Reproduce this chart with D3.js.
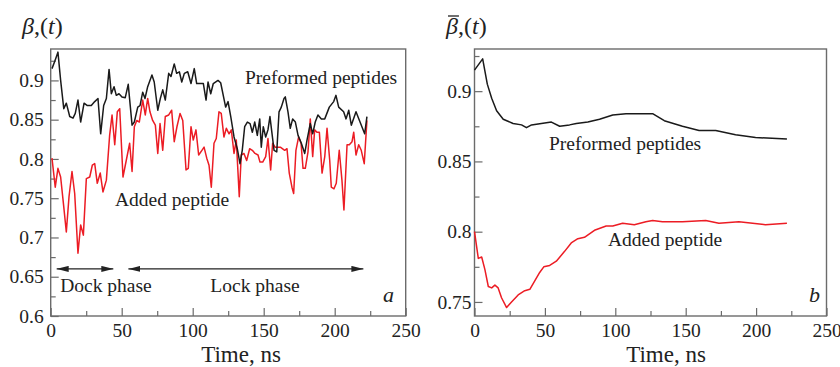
<!DOCTYPE html>
<html><head><meta charset="utf-8">
<script src="https://cdn.jsdelivr.net/npm/d3@7"></script>
<style>
html,body{margin:0;padding:0;background:#fff;}
svg{display:block;font-family:"Liberation Serif","Times New Roman",serif;}
</style></head>
<body>
<svg id="c" width="840" height="367"></svg>
<script>
// ---------- data (a): instantaneous ----------
const timePreA = [0.9,2.8,5.1,7.0,9.2,11.0,13.4,15.7,17.3,19.2,21.1,23.5,25.8,28.6,31.0,33.3,35.2,37.3,39.2,41.1,42.7,44.6,46.2,48.1,50.2,52.5,54.6,57.3,58.9,61.3,62.9,64.8,66.4,68.3,71.3,72.9,75.4,77.2,78.9,80.7,83.1,84.7,87.0,88.7,90.6,92.3,94.1,96.5,98.8,101.1,102.8,105.1,107.5,109.4,110.8,112.7,114.5,117.8,119.7,123.2,124.9,126.8,129.1,131.4,133.3,134.9,136.6,138.5,140.4,142.0,143.7,145.5,147.2,148.3,149.7,151.4,153.0,154.4,157.3,159.2,160.8,162.4,164.3,165.2,167.1,168.7,170.4,172.3,174.2,176.5,178.9,180.5,182.8,184.5,186.3,188.2,190.6,193.0,196.2,199.3,200.9,202.8,206.3,208.0,209.9,211.7,215.0,221.1,222.7];
const valPreA = [0.915,0.924,0.936,0.900,0.864,0.871,0.854,0.852,0.858,0.875,0.847,0.871,0.868,0.868,0.873,0.877,0.832,0.868,0.877,0.914,0.883,0.892,0.881,0.883,0.879,0.878,0.895,0.843,0.847,0.866,0.868,0.885,0.877,0.892,0.907,0.898,0.862,0.877,0.888,0.875,0.909,0.905,0.921,0.909,0.911,0.898,0.909,0.911,0.896,0.915,0.896,0.896,0.896,0.875,0.898,0.883,0.896,0.900,0.897,0.866,0.873,0.854,0.828,0.813,0.794,0.811,0.841,0.847,0.845,0.834,0.847,0.830,0.851,0.815,0.841,0.828,0.837,0.854,0.811,0.809,0.860,0.866,0.877,0.879,0.860,0.839,0.851,0.847,0.830,0.820,0.807,0.824,0.845,0.832,0.847,0.856,0.851,0.851,0.866,0.873,0.881,0.866,0.860,0.851,0.862,0.843,0.860,0.832,0.854];
const timeAddA = [0.9,3.2,5.1,7.0,9.2,11.0,12.9,15.0,16.9,19.2,21.1,23.0,25.1,27.5,29.3,31.0,32.8,34.9,36.8,39.2,41.5,43.2,45.1,46.9,48.6,50.9,53.2,55.6,57.3,58.9,60.6,62.4,64.8,66.6,68.3,69.9,71.8,73.7,75.4,77.0,78.9,80.7,83.1,85.2,87.0,88.9,91.1,93.0,95.3,96.9,98.8,100.4,102.3,104.2,106.5,108.0,109.9,111.5,113.1,115.0,116.6,118.5,120.1,122.0,123.7,125.6,127.2,129.1,130.7,132.8,134.2,136.1,138.0,140.1,142.0,143.9,146.0,147.4,149.3,151.4,153.0,154.9,156.3,158.0,159.9,161.7,164.8,166.4,168.0,169.9,171.1,172.7,174.6,176.3,177.7,179.3,181.2,182.8,184.5,185.9,187.5,189.2,191.1,193.0,194.6,196.5,197.6,199.5,201.1,203.2,205.1,206.5,208.7,210.3,212.2,213.4,215.0,216.9,218.7,220.8,222.7];
const valAddA = [0.801,0.764,0.788,0.777,0.739,0.707,0.752,0.784,0.756,0.680,0.716,0.703,0.775,0.777,0.792,0.794,0.769,0.782,0.758,0.773,0.830,0.856,0.818,0.860,0.864,0.777,0.798,0.820,0.784,0.841,0.849,0.847,0.875,0.856,0.877,0.860,0.849,0.843,0.807,0.845,0.811,0.854,0.856,0.862,0.822,0.841,0.858,0.849,0.786,0.788,0.841,0.824,0.837,0.805,0.811,0.815,0.801,0.792,0.764,0.820,0.826,0.860,0.858,0.828,0.839,0.832,0.837,0.807,0.824,0.752,0.805,0.807,0.798,0.813,0.811,0.807,0.805,0.796,0.796,0.803,0.826,0.786,0.820,0.815,0.815,0.815,0.811,0.813,0.782,0.764,0.756,0.811,0.828,0.820,0.788,0.788,0.809,0.851,0.803,0.837,0.834,0.834,0.782,0.803,0.839,0.798,0.764,0.762,0.769,0.811,0.773,0.735,0.818,0.818,0.822,0.834,0.805,0.818,0.811,0.794,0.849];

// ---------- data (b): running average ----------
const timePreB = [0,5.8,9.1,12.2,15.7,20.4,27.4,33.4,36.9,40.5,47.5,54.6,60.5,67.5,72.3,80.5,88.8,98.2,107.6,117.1,126.5,134.8,147.7,159.5,171.3,185.4,199.6,221.9];
const valPreB = [0.915,0.923,0.905,0.895,0.886,0.880,0.877,0.876,0.874,0.876,0.877,0.878,0.875,0.876,0.877,0.878,0.880,0.883,0.884,0.884,0.884,0.879,0.875,0.872,0.872,0.869,0.867,0.866];
const timeAddB = [0,2.7,5.1,7.4,9.8,12.2,14.5,16.8,19.2,22.8,26.3,31.0,35.7,39.3,42.8,46.3,49.2,53.4,58.1,64.0,68.7,73.4,78.1,85.2,93.5,98.2,105.2,113.5,121.7,126.5,133.5,147.7,164.2,173.6,187.8,206.6,221.9];
const valAddB = [0.800,0.781,0.782,0.773,0.761,0.760,0.762,0.760,0.753,0.746,0.750,0.755,0.758,0.759,0.765,0.771,0.775,0.776,0.779,0.786,0.792,0.795,0.796,0.801,0.804,0.804,0.806,0.805,0.807,0.808,0.807,0.807,0.808,0.806,0.807,0.805,0.806];

// ---------- ticks ----------
const xMajor = [0,50,100,150,200,250];
const xMinor = [25,75,125,175,225];
const yMajorA = [0.6,0.65,0.7,0.75,0.8,0.85,0.9];
const yMinorA = [0.625,0.675,0.725,0.775,0.825,0.875,0.925];
const yMajorB = [0.75,0.8,0.85,0.9];
const yMinorB = [0.775,0.825,0.875,0.925];

// phases (panel a)
const phases = [{name:"Dock phase", from:4.2, to:44.1, labelT:38.9},{name:"Lock phase", from:54.7, to:220.2, labelT:143.9}];
const phaseLevel = 0.66;

const svg = d3.select("#c");
svg.append("rect").attr("width",840).attr("height",367).attr("fill","#fff");
const axisColor = "#6b6b6b";
const black = "#1a1a1a", red = "#ec1c24";

const defs = svg.append("defs");
defs.append("marker").attr("id","ah").attr("viewBox","0 0 12 6").attr("refX",12).attr("refY",3)
  .attr("markerWidth",12).attr("markerHeight",6).attr("markerUnits","userSpaceOnUse").attr("orient","auto-start-reverse")
  .append("path").attr("d","M0,0 L12,3 L0,6 Z").attr("fill","#222");

function panel(opt){
  const x = d3.scaleLinear().domain([0,250]).range(opt.xr);
  const y = d3.scaleLinear().domain(opt.yd).range([316,49]);
  const g = svg.append("g");
  // minor ticks
  g.append("g").attr("transform","translate(0,316)")
    .call(d3.axisBottom(x).tickValues(xMinor).tickSize(-5).tickSizeOuter(0).tickFormat(""))
    .call(s=>{s.select(".domain").remove(); s.selectAll("line").attr("stroke",axisColor).attr("stroke-width",1.2);});
  g.append("g").attr("transform",`translate(${opt.xr[0]},0)`)
    .call(d3.axisLeft(y).tickValues(opt.yMinor).tickSize(-5).tickSizeOuter(0).tickFormat(""))
    .call(s=>{s.select(".domain").remove(); s.selectAll("line").attr("stroke",axisColor).attr("stroke-width",1.2);});
  // major ticks
  g.append("g").attr("transform","translate(0,316)")
    .call(d3.axisBottom(x).tickValues(xMajor).tickSize(-8).tickSizeOuter(0).tickPadding(7).tickFormat(d3.format("~g")))
    .call(s=>{s.select(".domain").remove(); s.selectAll("line").attr("stroke",axisColor).attr("stroke-width",1.2);
      s.selectAll("text").attr("font-size",19.5).attr("fill","#222").attr("font-family","Liberation Serif");});
  g.append("g").attr("transform",`translate(${opt.xr[0]},0)`)
    .call(d3.axisLeft(y).tickValues(opt.yMajor).tickSize(-8).tickSizeOuter(0).tickPadding(opt.ypad).tickFormat(d3.format("~g")))
    .call(s=>{s.select(".domain").remove(); s.selectAll("line").attr("stroke",axisColor).attr("stroke-width",1.2);
      s.selectAll("text").attr("font-size",19.5).attr("fill","#222").attr("font-family","Liberation Serif");});
  // frame
  g.append("rect").attr("x",opt.xr[0]).attr("y",49).attr("width",opt.xr[1]-opt.xr[0]).attr("height",267)
    .attr("fill","none").attr("stroke",axisColor).attr("stroke-width",1.4);
  // lines
  const line = d3.line().x(d=>x(d[0])).y(d=>y(d[1]));
  g.append("path").datum(d3.zip(opt.tAdd,opt.vAdd)).attr("d",line).attr("fill","none")
    .attr("stroke",red).attr("stroke-width",1.5).attr("stroke-linejoin","round");
  g.append("path").datum(d3.zip(opt.tPre,opt.vPre)).attr("d",line).attr("fill","none")
    .attr("stroke",black).attr("stroke-width",1.5).attr("stroke-linejoin","round");
  // x title
  g.append("text").attr("x",opt.titleX).attr("y",362).attr("text-anchor","middle")
    .attr("font-size",23).attr("fill","#222").text("Time, ns");
  // panel letter
  g.append("text").attr("x",opt.letterX).attr("y",302).attr("font-size",22).attr("font-style","italic")
    .attr("fill","#222").text(opt.letter);
  // series labels
  opt.labels.forEach(l=>{
    g.append("text").attr("x",l.x).attr("y",l.y).attr("font-size",19.5).attr("fill","#222").text(l.text);
  });
  return {x,y,g};
}

const A = panel({xr:[50.7,405.7], yd:[0.6,0.94], yMajor:yMajorA, yMinor:yMinorA, ypad:7,
  tPre:timePreA, vPre:valPreA, tAdd:timeAddA, vAdd:valAddA, titleX:241, letter:"a", letterX:383,
  labels:[{text:"Preformed peptides",x:245,y:83.5},{text:"Added peptide",x:115,y:206}]});
const B = panel({xr:[474.5,826.5], yd:[0.74,0.93], yMajor:yMajorB, yMinor:yMinorB, ypad:3,
  tPre:timePreB, vPre:valPreB, tAdd:timeAddB, vAdd:valAddB, titleX:666, letter:"b", letterX:809,
  labels:[{text:"Preformed peptides",x:549,y:149.5},{text:"Added peptide",x:608,y:246}]});

// phase arrows and labels
phases.forEach(p=>{
  A.g.append("line").attr("x1",A.x(p.from)).attr("x2",A.x(p.to)).attr("y1",A.y(phaseLevel)).attr("y2",A.y(phaseLevel))
    .attr("stroke","#222").attr("stroke-width",1.1).attr("marker-start","url(#ah)").attr("marker-end","url(#ah)");
  A.g.append("text").attr("x",A.x(p.labelT)).attr("y",291.5).attr("text-anchor","middle")
    .attr("font-size",19.5).attr("fill","#222").text(p.name);
});

// y titles
function yTitle(x0, bar){
  const t = svg.append("text").attr("x",x0).attr("y",34).attr("font-size",24).attr("fill","#222");
  t.append("tspan").attr("font-style","italic").text("β");
  t.append("tspan").text(",(");
  t.append("tspan").attr("font-style","italic").text("t");
  t.append("tspan").text(")");
  if(bar){
    const w = t.node().getSubStringLength(0,1);
    svg.append("line").attr("x1",x0+2).attr("x2",x0+w+1).attr("y1",16).attr("y2",16)
      .attr("stroke","#222").attr("stroke-width",1.3);
  }
}
yTitle(22,false);
yTitle(446,true);
</script>
</body></html>
